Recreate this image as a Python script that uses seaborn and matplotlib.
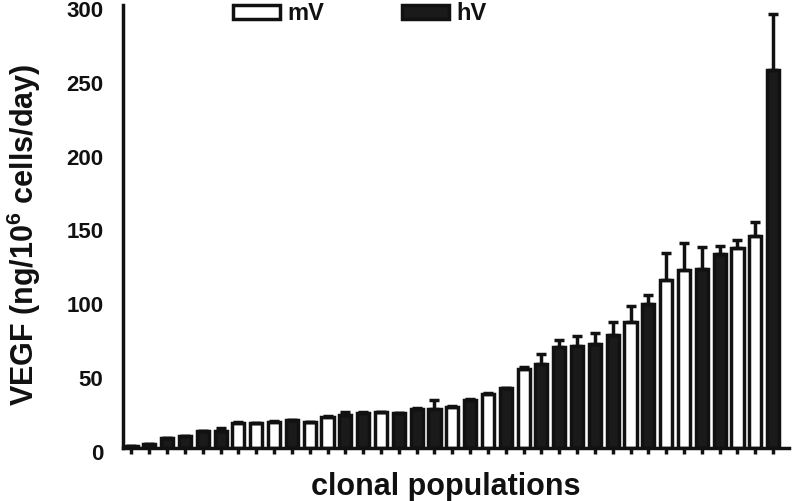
import numpy as np
import pandas as pd
import matplotlib
matplotlib.use("Agg")
import matplotlib.pyplot as plt
import matplotlib.transforms as mtransforms
import seaborn as sns

# bar values, sorted as in the original
values = [1.5, 2.5, 7, 8, 11.4, 11.4, 17, 16.6, 17.6, 18.7, 17.6, 21, 22, 23.5,
          24, 23.5, 26.4, 26.4, 28, 32.5, 36.3, 40.4, 53.5, 56.6, 68.6, 69.3,
          70.4, 76.5, 85.5, 97.5, 113.7, 120.5, 121, 131.3, 135.2, 143.7, 255.9]
errors = [0, 0, 0, 0, 0, 2.3, 0.5, 0.5, 0.5, 0.5, 0, 0.5, 2, 0.5, 0.5, 0, 0.5,
          6, 0.5, 0.5, 1, 0.5, 1, 7, 4.5, 6.5, 7.3, 9, 10.6, 6.1, 18.5, 18.5,
          15.3, 5.7, 5.6, 9.5, 37.9]
groups = ["hV", "hV", "hV", "hV", "hV", "hV", "mV", "mV", "mV", "hV", "mV", "mV",
          "hV", "hV", "mV", "hV", "hV", "hV", "mV", "hV", "mV", "hV", "mV", "hV",
          "hV", "hV", "hV", "hV", "mV", "hV", "mV", "mV", "hV", "hV", "mV", "mV", "hV"]

df = pd.DataFrame({
    "clone": [str(i) for i in range(len(values))],
    "VEGF": values,
    "err": errors,
    "group": groups,
})

sns.set_theme(style="white")
plt.rcParams["font.family"] = ["Liberation Sans", "DejaVu Sans"]
plt.rcParams["font.weight"] = "bold"
plt.rcParams["text.color"] = "#111111"
plt.rcParams["axes.labelcolor"] = "#111111"
plt.rcParams["xtick.color"] = "#111111"
plt.rcParams["ytick.color"] = "#111111"
plt.rcParams["mathtext.fontset"] = "custom"
plt.rcParams["mathtext.rm"] = "Liberation Sans:bold"
plt.rcParams["mathtext.it"] = "Liberation Sans:bold"
plt.rcParams["mathtext.bf"] = "Liberation Sans:bold"

fig = plt.figure(figsize=(7.92, 5.01), dpi=100)
ax = fig.add_axes([0.155, 0.106, 0.841, 0.884])

lw = 2.5
sns.barplot(data=df, x="clone", y="VEGF", hue="group", hue_order=["mV", "hV"],
            palette={"mV": "white", "hV": "#1a1a1a"}, dodge=False, width=0.68,
            edgecolor="#111111", linewidth=lw, errorbar=None, ax=ax)

xpos = np.arange(len(values))
err = np.array(errors)
ax.errorbar(xpos, values, yerr=[np.zeros_like(err), err], fmt="none",
            ecolor="#111111", elinewidth=lw, capsize=3.6, capthick=lw, zorder=3)

ax.set_xlim(-0.49, len(values) - 1 + 0.88)
ax.set_ylim(0, 300)
ax.set_yticks(range(0, 301, 50))
ax.set_xticks(xpos)
ax.set_xticklabels([])
ax.tick_params(axis="y", length=9, width=2, labelsize=16, pad=5)
ax.tick_params(axis="x", length=4, width=2.5, bottom=True)
shift = mtransforms.ScaledTranslation(0, -4 / 100, fig.dpi_scale_trans)
for lab in ax.get_yticklabels():
    lab.set_fontweight("bold")
    lab.set_transform(lab.get_transform() + shift)

sns.despine(ax=ax)
for side in ["left", "bottom"]:
    ax.spines[side].set_linewidth(lw)
    ax.spines[side].set_color("#111111")

ax.set_xlabel("clonal populations", fontsize=22, fontweight="bold")
ax.set_ylabel(r"VEGF (ng/10$^6$ cells/day)", fontsize=22, fontweight="bold")
ax.xaxis.set_label_coords(0.485, -0.054)
ax.yaxis.set_label_coords(-0.12, 0.48)

handles, labels = ax.get_legend_handles_labels()
ax.legend(handles, labels, loc="center", bbox_to_anchor=(360 / 792, 1 - 14 / 501),
          bbox_transform=fig.transFigure, ncol=2, frameon=False, fontsize=17,
          handlelength=2.0, handleheight=0.55, handletextpad=0.3, columnspacing=3.3)

fig.savefig("out.png", dpi=100)
